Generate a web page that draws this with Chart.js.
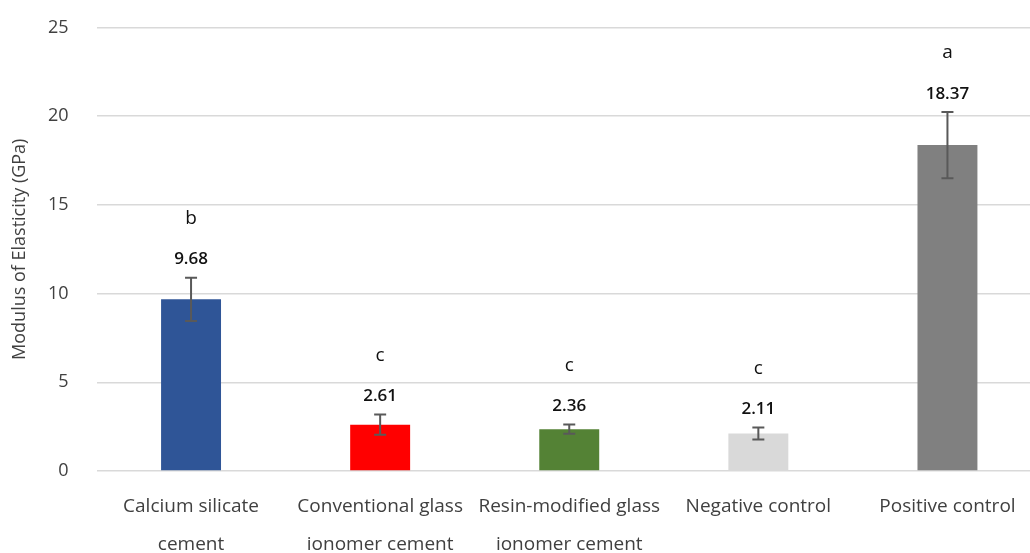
<!DOCTYPE html>
<html>
<head>
<meta charset="utf-8">
<script src="https://cdn.jsdelivr.net/npm/chart.js@4.4.1/dist/chart.umd.min.js"></script>
<style>
  html, body { margin: 0; padding: 0; background: #fff; overflow: hidden; }
  #wrap { width: 1042px; height: 553px; }
</style>
</head>
<body>
<div id="wrap"><canvas id="chart" width="1042" height="553"></canvas></div>
<script>
// Modulus of elasticity by material group (mean ± SD, GPa)
const categories = [
  ['Calcium silicate', 'cement'],
  ['Conventional glass', 'ionomer cement'],
  ['Resin-modified glass', 'ionomer cement'],
  'Negative control',
  'Positive control'
];
const means = [9.68, 2.61, 2.36, 2.11, 18.37];
const sd = [1.22, 0.57, 0.26, 0.34, 1.87];
const groupLetters = ['b', 'c', 'c', 'c', 'a'];
const barColors = ['#2F5597', '#FF0000', '#548235', '#D9D9D9', '#808080'];
const yTicks = [0, 5, 10, 15, 20, 25];

const FONT = "'Open Sans', 'Noto Sans', sans-serif";

// Error bars, value labels and significance letters
const annotate = {
  id: 'annotate',
  afterDatasetsDraw(chart) {
    const ctx = chart.ctx;
    const meta = chart.getDatasetMeta(0);
    const y = chart.scales.y;
    ctx.save();
    meta.data.forEach((bar, i) => {
      const x = bar.x;
      const top = y.getPixelForValue(means[i] + sd[i]);
      const bot = y.getPixelForValue(means[i] - sd[i]);
      ctx.strokeStyle = '#595959';
      ctx.lineWidth = 2;
      ctx.beginPath();
      ctx.moveTo(x, top); ctx.lineTo(x, bot);
      ctx.moveTo(x - 6, top); ctx.lineTo(x + 6, top);
      ctx.moveTo(x - 6, bot); ctx.lineTo(x + 6, bot);
      ctx.stroke();

      ctx.fillStyle = '#111';
      ctx.textAlign = 'center';
      ctx.textBaseline = 'middle';
      const vy = top - 18;
      ctx.font = `600 17px ${FONT}`;
      ctx.fillText(means[i].toFixed(2), x, vy);
      ctx.font = `400 19px ${FONT}`;
      ctx.fillText(groupLetters[i], x, vy - 41);
    });
    ctx.restore();
  }
};

new Chart(document.getElementById('chart'), {
  type: 'bar',
  data: {
    labels: categories,
    datasets: [{
      data: means,
      backgroundColor: barColors,
      borderWidth: 0,
      barPercentage: 0.317,
      categoryPercentage: 1.0
    }]
  },
  options: {
    responsive: false,
    animation: false,
    events: [],
    layout: { padding: { top: 27.5, right: 0, left: 0, bottom: 0 } },
    plugins: { legend: { display: false }, tooltip: { enabled: false } },
    scales: {
      x: {
        grid: { display: false, drawTicks: false },
        border: { display: false },
        ticks: {
          color: '#404040',
          font: { family: FONT, size: 19, lineHeight: '38px' },
          padding: 17,
          maxRotation: 0,
          autoSkip: false
        },
        afterFit(scale) {
          scale.height = 82;
          scale.paddingLeft = 0; scale.paddingRight = 0;
          scale.paddingTop = 0; scale.paddingBottom = 0;
        }
      },
      y: {
        min: 0,
        max: 25,
        afterBuildTicks(scale) { scale.ticks = yTicks.map(v => ({ value: v })); },
        grid: { color: '#D9D9D9', lineWidth: 1.5, drawTicks: false },
        border: { display: false },
        ticks: {
          color: '#404040',
          font: { family: FONT, size: 18 },
          padding: 28
        },
        title: {
          display: true,
          text: 'Modulus of Elasticity (GPa)',
          color: '#404040',
          font: { family: FONT, size: 18 },
          padding: { top: 9, bottom: 0 }
        },
        afterFit(scale) {
          scale.width = 96.5;
          scale.paddingTop = 0; scale.paddingBottom = 0;
          scale.paddingLeft = 0; scale.paddingRight = 0;
        }
      }
    }
  },
  plugins: [annotate]
});
</script>
</body>
</html>
